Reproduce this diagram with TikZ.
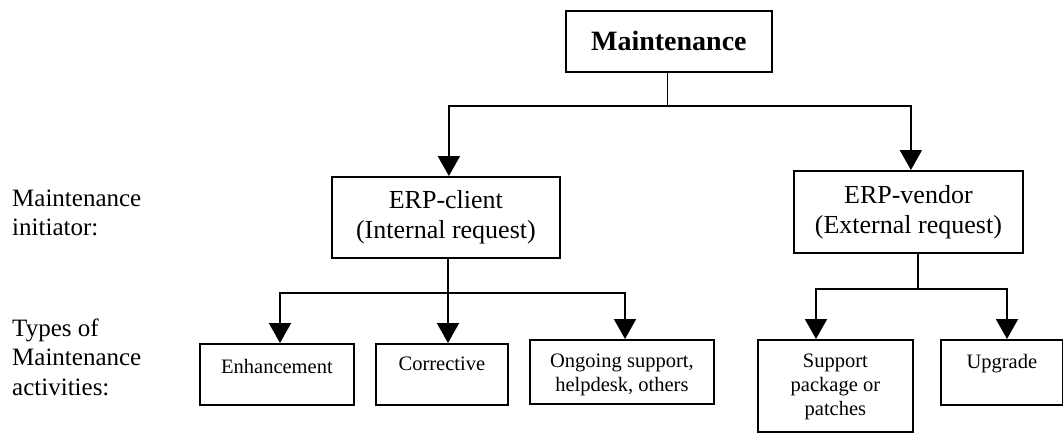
\documentclass[tikz,border=0pt]{standalone}
\usepackage{fontspec}
\setmainfont{Liberation Serif}
\usetikzlibrary{arrows.meta}
\begin{document}
\begin{tikzpicture}[x=1pt,y=-1pt,
  box/.style={draw,line width=1.8pt,inner sep=0pt,anchor=north west},
  big/.style={font=\fontsize{26}{30}\selectfont,align=center,inner sep=0pt},
  small/.style={font=\fontsize{20.5}{24}\selectfont,align=center,inner sep=0pt,anchor=north},
  side/.style={font=\fontsize{25}{29.5}\selectfont,align=left,inner sep=0pt,anchor=west},
  link/.style={line width=2pt},
  arr/.style={line width=2pt,-{Triangle[width=22pt,length=20pt]}}]
\useasboundingbox (0,0) rectangle (1063,432);

% top level
\node[box,minimum width=206pt,minimum height=61pt] (top) at (565,10) {};
\node[inner sep=0pt,font=\fontsize{28}{32}\selectfont\bfseries] (toplbl) at (top.center) {Maintenance};

% initiators
\node[box,minimum width=228pt,minimum height=81pt] (client) at (331,176) {};
\node[big] (clientlbl) at (client.center) {ERP-client\\(Internal request)};
\node[box,minimum width=229pt,minimum height=82pt] (vendor) at (793,170) {};
\node[big] (vendorlbl) at (vendor.center) {ERP-vendor\\(External request)};

% activity types
\node[box,minimum width=154pt,minimum height=61pt] (enh) at (199,343) {};
\node[small] (enhlbl) at ([yshift=-16pt]enh.north) {Enhancement};
\node[box,minimum width=132pt,minimum height=61pt] (corr) at (375,343) {};
\node[small] (corrlbl) at ([yshift=-14pt]corr.north) {Corrective};
\node[box,minimum width=184pt,minimum height=64pt] (ongo) at (529,339) {};
\node[small] (ongolbl) at ([yshift=-15pt]ongo.north) {Ongoing support,\\helpdesk, others};
\node[box,minimum width=155pt,minimum height=92pt] (supp) at (757,339) {};
\node[small] (supplbl) at ([yshift=-15pt]supp.north) {Support\\package or\\patches};
\node[box,minimum width=122pt,minimum height=65pt] (upg) at (940,339) {};
\node[small] (upglbl) at ([yshift=-15pt]upg.north) {Upgrade};

% row captions
\node[side] (capinit) at (12,213) {Maintenance\\initiator:};
\node[side] (captype) at (12,357) {Types of\\Maintenance\\activities:};

% connectors from the top box
\coordinate (tsplit) at (667,106);
\draw[line width=1pt] (top.south -| tsplit) -- (tsplit);
\draw[arr] (tsplit) -| ([xshift=3pt]client.north);
\draw[arr] (tsplit) -| ([xshift=2.5pt]vendor.north);

% connectors from ERP-client
\coordinate (csplit) at (448,293);
\draw[arr] (client.south -| csplit) -- (corr.north -| csplit);
\draw[arr] (csplit) -| (enh.north -| 280,0);
\draw[arr] (csplit) -| (ongo.north -| 625,0);

% connectors from ERP-vendor
\coordinate (vsplit) at (918,289);
\draw[link] (vendor.south -| vsplit) -- (vsplit);
\draw[arr] (vsplit) -| (supp.north -| 816,0);
\draw[arr] (vsplit) -| (upg.north -| 1007,0);
\end{tikzpicture}
\end{document}
